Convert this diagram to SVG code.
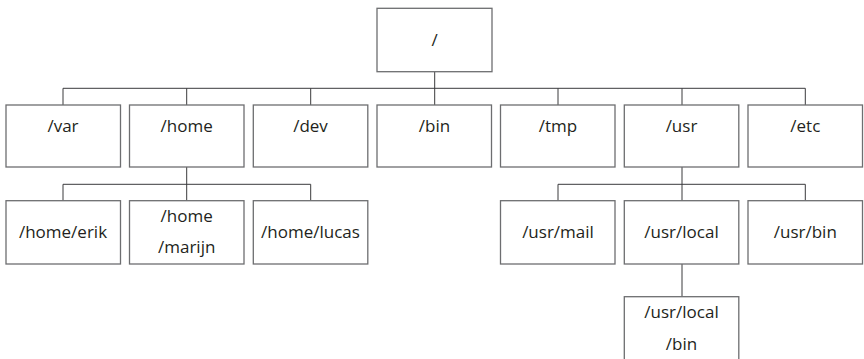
<svg xmlns="http://www.w3.org/2000/svg" width="864" height="359" viewBox="0 0 864 359">
<style>
.box{fill:#fff;stroke:#6d6e70;stroke-width:1.3}
.lbl{font-family:"Open Sans","Noto Sans","DejaVu Sans",sans-serif;font-size:17px;fill:#231f20;text-anchor:middle}
.conn{fill:none;stroke:#3a3a3c;stroke-width:1}
</style>
<rect width="864" height="359" fill="#fff"/>
<g id="connectors">
<path class="conn" d="M434.7,72 V105 M63,105 V88.3 H805.3 V105 M186.7,88.3 V105 M310.7,88.3 V105 M558,88.3 V105 M682,88.3 V105"/>
<path class="conn" d="M186.7,167 V200.7 M63,200.7 V184.3 H310.7 V200.7"/>
<path class="conn" d="M682,167 V200.7 M558,200.7 V184.3 H805.3 V200.7"/>
<path class="conn" d="M682,264 V296.7"/>
</g>
<g id="root"><rect class="box" x="377" y="8.3" width="115" height="63.4"/><text class="lbl" x="434.5" y="46">/</text></g>
<g id="var"><rect class="box" x="6" y="105" width="114.5" height="62"/><text class="lbl" x="63" y="132">/var</text></g>
<g id="home"><rect class="box" x="129.5" y="105" width="114.5" height="62"/><text class="lbl" x="186.7" y="132">/home</text></g>
<g id="dev"><rect class="box" x="253.3" y="105" width="114.5" height="62"/><text class="lbl" x="310.5" y="132">/dev</text></g>
<g id="bin"><rect class="box" x="377" y="105" width="114.5" height="62"/><text class="lbl" x="434.5" y="132">/bin</text></g>
<g id="tmp"><rect class="box" x="500.5" y="105" width="114.5" height="62"/><text class="lbl" x="558" y="132">/tmp</text></g>
<g id="usr"><rect class="box" x="624.3" y="105" width="114.5" height="62"/><text class="lbl" x="681.5" y="132">/usr</text></g>
<g id="etc"><rect class="box" x="748" y="105" width="114.5" height="62"/><text class="lbl" x="805.3" y="132">/etc</text></g>
<g id="home-erik"><rect class="box" x="6" y="200.7" width="114.5" height="63.3"/><text class="lbl" x="63" y="238.3">/home/erik</text></g>
<g id="home-marijn"><rect class="box" x="129.5" y="200.7" width="114.5" height="63.3"/><text class="lbl" x="186.7" y="222.3">/home</text><text class="lbl" x="186.7" y="253">/marijn</text></g>
<g id="home-lucas"><rect class="box" x="253.3" y="200.7" width="114.5" height="63.3"/><text class="lbl" x="310.5" y="238.3">/home/lucas</text></g>
<g id="usr-mail"><rect class="box" x="500.5" y="200.7" width="114.5" height="63.3"/><text class="lbl" x="558" y="238.3">/usr/mail</text></g>
<g id="usr-local"><rect class="box" x="624.3" y="200.7" width="114.5" height="63.3"/><text class="lbl" x="681.5" y="238.3">/usr/local</text></g>
<g id="usr-bin"><rect class="box" x="748" y="200.7" width="114.5" height="63.3"/><text class="lbl" x="805.3" y="238.3">/usr/bin</text></g>
<g id="usr-local-bin"><rect class="box" x="624.3" y="296.7" width="114.5" height="70"/><text class="lbl" x="681.5" y="318.3">/usr/local</text><text class="lbl" x="681.5" y="350">/bin</text></g>
</svg>
